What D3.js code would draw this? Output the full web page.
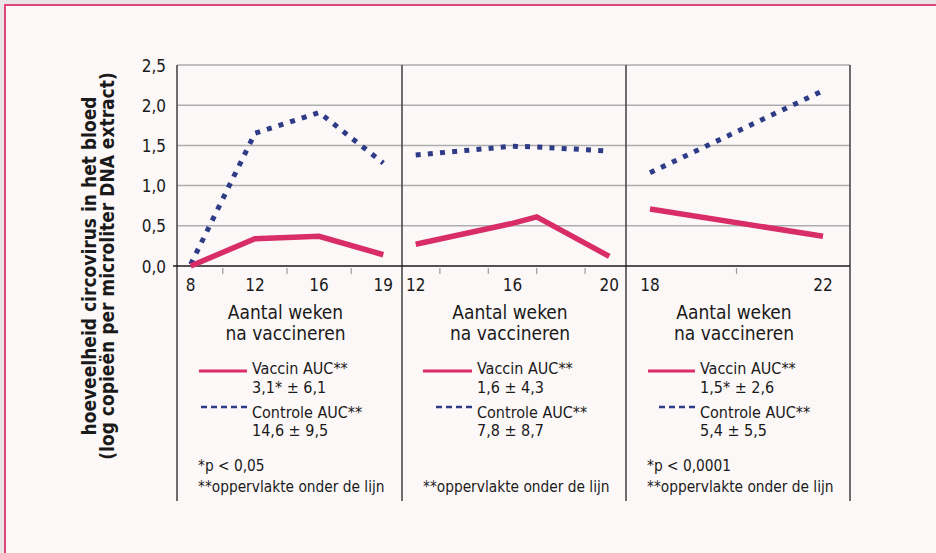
<!DOCTYPE html>
<html>
<head>
<meta charset="utf-8">
<script src="https://cdn.jsdelivr.net/npm/d3@7"></script>
<style>
    html, body { margin: 0; padding: 0; background: #ebe6e6; }
    svg { display: block; }
    text { font-family: 'Liberation Sans Narrow', 'DejaVu Sans Condensed', 'Arial Narrow', sans-serif; fill: #1a1a1a; }
</style>
</head>
<body>
<div id="chart"></div>
<script>
// data
let yTicks = [0, 0.5, 1, 1.5, 2, 2.5];

let weeks1 = [8, 12, 16, 19];
let vaccin1 = [0.0, 0.34, 0.37, 0.14];
let controle1 = [0.02, 1.65, 1.91, 1.28];

let weeks2 = [12, 16, 17, 20];
let vaccin2 = [0.27, 0.53, 0.61, 0.12];
let controle2 = [1.38, 1.49, 1.48, 1.43];
let tickLabels2 = [12, 16, 20];
let minorTicks2 = [13, 15, 17, 19];

let weeks3 = [18, 22];
let vaccin3 = [0.71, 0.37];
let controle3 = [1.16, 2.18];
let tickLabels3 = [18, 22];
let minorTicks3 = [20];

let vaccinAuc = ['3,1* \u00b1 6,1', '1,6 \u00b1 4,3', '1,5* \u00b1 2,6'];
let controleAuc = ['14,6 \u00b1 9,5', '7,8 \u00b1 8,7', '5,4 \u00b1 5,5'];
let pValues = ['*p < 0,05', '', '*p < 0,0001'];

let pink = '#d82d69';
let navy = '#2e3b86';

let svg = d3.select('#chart').append('svg')
    .attr('width', 936)
    .attr('height', 553);

// frame
svg.append('rect')
    .attr('x', 5).attr('y', 5)
    .attr('width', 1000).attr('height', 600)
    .attr('fill', '#fdf8f8')
    .attr('stroke', '#e2457c')
    .attr('stroke-width', 2);

let yScale = d3.scaleLinear().domain([0, 2.5]).range([266, 65]);
let panelX = [177, 402, 626, 850];
let bottomY = 501;

// gridlines
svg.append('g').selectAll('line')
    .data(yTicks.filter(d => d > 0))
    .enter().append('line')
    .attr('x1', panelX[0]).attr('x2', panelX[3])
    .attr('y1', d => yScale(d)).attr('y2', d => yScale(d))
    .attr('stroke', '#adadad')
    .attr('stroke-width', 1.5);

// y axis labels
let yAxis = d3.axisLeft(yScale)
    .tickValues(yTicks)
    .tickSize(0)
    .tickPadding(11)
    .tickFormat(d => d3.format('.1f')(d).replace('.', ','));
let yG = svg.append('g').attr('transform', 'translate(' + panelX[0] + ',0)').call(yAxis);
yG.select('.domain').remove();
yG.selectAll('text').attr('font-size', 17).attr('dy', '0.36em').style('font-family', null);

// panel dividers
svg.append('g').selectAll('line')
    .data(panelX)
    .enter().append('line')
    .attr('x1', d => d).attr('x2', d => d)
    .attr('y1', yScale(2.5)).attr('y2', bottomY)
    .attr('stroke', '#4a4a4a')
    .attr('stroke-width', 1.6);

// x axis line
svg.append('line')
    .attr('x1', panelX[0] - 4).attr('x2', panelX[3])
    .attr('y1', yScale(0)).attr('y2', yScale(0))
    .attr('stroke', '#1a1a1a')
    .attr('stroke-width', 1.6);

// x scales for the three panels
let x1 = d3.scalePoint().domain(weeks1).range([190.7, 383.3]);
let x2 = d3.scaleLinear().domain([12, 20]).range([415.7, 609.3]);
let x3 = d3.scaleLinear().domain([18, 22]).range([650, 823]);

let minor1 = weeks1.slice(1).map((w, i) => (x1(weeks1[i]) + x1(w)) / 2);

let panels = [
    {x: x1, weeks: weeks1, vaccin: vaccin1, controle: controle1, labels: weeks1, minor: minor1},
    {x: x2, weeks: weeks2, vaccin: vaccin2, controle: controle2, labels: tickLabels2, minor: minorTicks2.map(d => x2(d))},
    {x: x3, weeks: weeks3, vaccin: vaccin3, controle: controle3, labels: tickLabels3, minor: minorTicks3.map(d => x3(d))}
];

// legend placement per panel
let legendX0 = [199, 423, 648];
let legendX1 = [247, 472, 695];
let dashX0 = [199, 432, 655];
let noteX = [198, 423, 647];

panels.forEach(function (p, i) {
    let g = svg.append('g');
    let mid = (panelX[i] + panelX[i + 1]) / 2 - 4;

    // minor ticks below the axis
    g.selectAll('line.minor')
        .data(p.minor)
        .enter().append('line')
        .attr('class', 'minor')
        .attr('x1', d => d).attr('x2', d => d)
        .attr('y1', yScale(0) + 2).attr('y2', yScale(0) + 8)
        .attr('stroke', '#9a9a9a')
        .attr('stroke-width', 1.2);

    // tick labels
    g.selectAll('text.tick')
        .data(p.labels)
        .enter().append('text')
        .attr('class', 'tick')
        .attr('x', d => p.x(d))
        .attr('y', 291)
        .attr('text-anchor', 'middle')
        .attr('font-size', 17)
        .text(d => d);

    // lines
    let lineGen = function (vals) {
        return d3.line()
            .x((d, j) => p.x(p.weeks[j]))
            .y(d => yScale(d))(vals);
    };
    g.append('path')
        .attr('d', lineGen(p.controle))
        .attr('fill', 'none')
        .attr('stroke', navy)
        .attr('stroke-width', 5)
        .attr('stroke-dasharray', '5,7.2');
    g.append('path')
        .attr('d', lineGen(p.vaccin))
        .attr('fill', 'none')
        .attr('stroke', pink)
        .attr('stroke-width', 5.5);

    // axis title
    g.append('text')
        .attr('x', mid).attr('y', 319)
        .attr('text-anchor', 'middle')
        .attr('font-size', 19)
        .text('Aantal weken');
    g.append('text')
        .attr('x', mid).attr('y', 339.5)
        .attr('text-anchor', 'middle')
        .attr('font-size', 19)
        .text('na vaccineren');

    // legend
    g.append('line')
        .attr('x1', legendX0[i]).attr('x2', legendX1[i])
        .attr('y1', 371).attr('y2', 371)
        .attr('stroke', pink)
        .attr('stroke-width', 3);
    // drawn right to left so the dash pattern starts at the text side
    g.append('line')
        .attr('x1', legendX1[i]).attr('x2', dashX0[i])
        .attr('y1', 407).attr('y2', 407)
        .attr('stroke', navy)
        .attr('stroke-width', 2.5)
        .attr('stroke-dasharray', '6,4');

    let tx = legendX1[i] + 5;
    let legendLines = [
        ['Vaccin AUC**', 374.3],
        [vaccinAuc[i], 392.7],
        ['Controle AUC**', 417.7],
        [controleAuc[i], 435.7]
    ];
    legendLines.forEach(function (l) {
        g.append('text')
            .attr('x', tx).attr('y', l[1])
            .attr('font-size', 16)
            .text(l[0]);
    });

    // footnotes
    if (pValues[i]) {
        g.append('text')
            .attr('x', noteX[i]).attr('y', 471)
            .attr('font-size', 15.3)
            .text(pValues[i]);
    }
    g.append('text')
        .attr('x', noteX[i]).attr('y', 492.3)
        .attr('font-size', 15.3)
        .text('**oppervlakte onder de lijn');
});

// y title
let titleY = 266;
svg.append('text')
    .attr('transform', 'translate(96,' + titleY + ') rotate(-90)')
    .attr('text-anchor', 'middle')
    .attr('font-size', 19)
    .attr('font-weight', 'bold')
    .text('hoeveelheid circovirus in het bloed');
svg.append('text')
    .attr('transform', 'translate(114,' + titleY + ') rotate(-90)')
    .attr('text-anchor', 'middle')
    .attr('font-size', 19)
    .attr('font-weight', 'bold')
    .text('(log copie\u00ebn per microliter DNA extract)');
</script>
</body>
</html>
